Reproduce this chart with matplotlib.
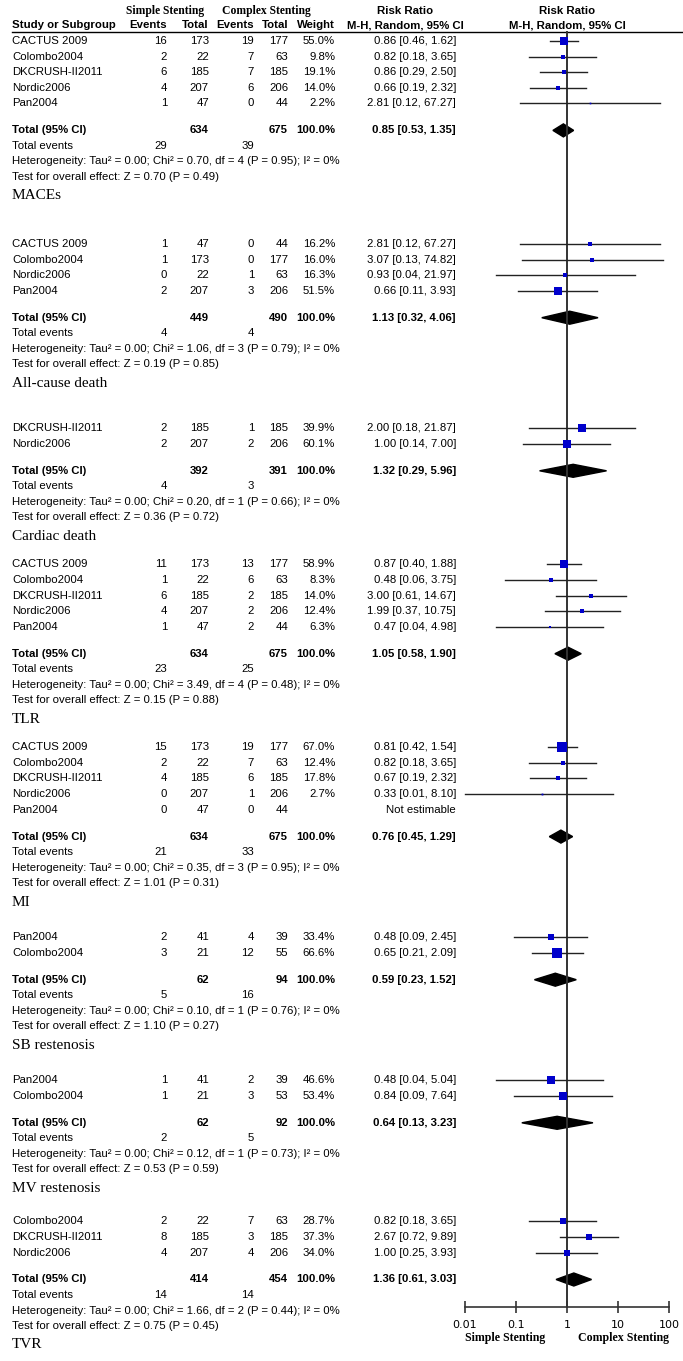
import numpy as np
import matplotlib.pyplot as plt

# outcome captions, one per block (printed under each block)
outcomes = ["MACEs", "All-cause death", "Cardiac death", "TLR", "MI",
            "SB restenosis", "MV restenosis", "TVR"]

studies = [
    ["CACTUS 2009", "Colombo2004", "DKCRUSH-II2011", "Nordic2006", "Pan2004"],
    ["CACTUS 2009", "Colombo2004", "Nordic2006", "Pan2004"],
    ["DKCRUSH-II2011", "Nordic2006"],
    ["CACTUS 2009", "Colombo2004", "DKCRUSH-II2011", "Nordic2006", "Pan2004"],
    ["CACTUS 2009", "Colombo2004", "DKCRUSH-II2011", "Nordic2006", "Pan2004"],
    ["Pan2004", "Colombo2004"],
    ["Pan2004", "Colombo2004"],
    ["Colombo2004", "DKCRUSH-II2011", "Nordic2006"],
]
ev_simple = [[16, 2, 6, 4, 1], [1, 1, 0, 2], [2, 2], [11, 1, 6, 4, 1],
             [15, 2, 4, 0, 0], [2, 3], [1, 1], [2, 8, 4]]
n_simple = [[173, 22, 185, 207, 47], [47, 173, 22, 207], [185, 207],
            [173, 22, 185, 207, 47], [173, 22, 185, 207, 47], [41, 21],
            [41, 21], [22, 185, 207]]
ev_complex = [[19, 7, 7, 6, 0], [0, 0, 1, 3], [1, 2], [13, 6, 2, 2, 2],
              [19, 7, 6, 1, 0], [4, 12], [2, 3], [7, 3, 4]]
n_complex = [[177, 63, 185, 206, 44], [44, 177, 63, 206], [185, 206],
             [177, 63, 185, 206, 44], [177, 63, 185, 206, 44], [39, 55],
             [39, 53], [63, 185, 206]]
weights = [[55.0, 9.8, 19.1, 14.0, 2.2], [16.2, 16.0, 16.3, 51.5], [39.9, 60.1],
           [58.9, 8.3, 14.0, 12.4, 6.3], [67.0, 12.4, 17.8, 2.7, None],
           [33.4, 66.6], [46.6, 53.4], [28.7, 37.3, 34.0]]
rr = [[0.86, 0.82, 0.86, 0.66, 2.81], [2.81, 3.07, 0.93, 0.66], [2.00, 1.00],
      [0.87, 0.48, 3.00, 1.99, 0.47], [0.81, 0.82, 0.67, 0.33, None],
      [0.48, 0.65], [0.48, 0.84], [0.82, 2.67, 1.00]]
rr_lo = [[0.46, 0.18, 0.29, 0.19, 0.12], [0.12, 0.13, 0.04, 0.11], [0.18, 0.14],
         [0.40, 0.06, 0.61, 0.37, 0.04], [0.42, 0.18, 0.19, 0.01, None],
         [0.09, 0.21], [0.04, 0.09], [0.18, 0.72, 0.25]]
rr_hi = [[1.62, 3.65, 2.50, 2.32, 67.27], [67.27, 74.82, 21.97, 3.93], [21.87, 7.00],
         [1.88, 3.75, 14.67, 10.75, 4.98], [1.54, 3.65, 2.32, 8.10, None],
         [2.45, 2.09], [5.04, 7.64], [3.65, 9.89, 3.93]]

tot_simple = [634, 449, 392, 634, 634, 62, 62, 414]
tot_complex = [675, 490, 391, 675, 675, 94, 92, 454]
tot_rr = [0.85, 1.13, 1.32, 1.05, 0.76, 0.59, 0.64, 1.36]
tot_lo = [0.53, 0.32, 0.29, 0.58, 0.45, 0.23, 0.13, 0.61]
tot_hi = [1.35, 4.06, 5.96, 1.90, 1.29, 1.52, 3.23, 3.03]
tot_ev_simple = [29, 4, 4, 23, 21, 5, 2, 14]
tot_ev_complex = [39, 4, 3, 25, 33, 16, 5, 14]
chi2 = [0.70, 1.06, 0.20, 3.49, 0.35, 0.10, 0.12, 1.66]
dfree = [4, 3, 1, 4, 3, 1, 1, 2]
p_het = [0.95, 0.79, 0.66, 0.48, 0.95, 0.76, 0.73, 0.44]
z_val = [0.70, 0.19, 0.36, 0.15, 1.01, 1.10, 0.53, 0.75]
p_z = [0.49, 0.85, 0.72, 0.88, 0.31, 0.27, 0.59, 0.45]

axis_ticks = [0.01, 0.1, 1, 10, 100]
axis_labels = ["0.01", "0.1", "1", "10", "100"]

W, H = 683, 1361
fig = plt.figure(figsize=(W / 100, H / 100), dpi=100)
fig.patch.set_facecolor("white")

# table part, pixel coordinates
ax = fig.add_axes([0, 0, 1, 1])
ax.set_xlim(0, W)
ax.set_ylim(H, 0)
ax.axis("off")

# forest part, log scale between 0.01 and 100
x0, x1, y_axis = 465, 669, 1307
ax2 = fig.add_axes([x0 / W, (H - y_axis) / H, (x1 - x0) / W, y_axis / H])
ax2.set_xscale("log")
ax2.set_xlim(0.01, 100)
ax2.set_ylim(y_axis, 0)
ax2.patch.set_alpha(0)
for s in ["top", "right", "left"]:
    ax2.spines[s].set_visible(False)
ax2.spines["bottom"].set_linewidth(1.2)
ax2.spines["bottom"].set_color("#333333")
ax2.set_yticks([])
ax2.set_xticks(axis_ticks)
ax2.set_xticklabels(axis_labels)
ax2.minorticks_off()
ax2.tick_params(axis="x", direction="inout", length=8, width=1.2,
                color="#333333", labelsize=8, pad=5)

sans = "Liberation Sans"
serif = "Liberation Serif"
fs = 8.2
col_name, col_es, col_ns, col_ec, col_nc, col_w, col_ci = 12, 167, 209, 254, 288, 335, 456

# header
ax.text(165, 11, "Simple Stenting", ha="center", va="center", fontsize=8.4,
        family=serif, weight="bold")
ax.text(266, 11, "Complex Stenting", ha="center", va="center", fontsize=8.4,
        family=serif, weight="bold")
ax.text(405, 11, "Risk Ratio", ha="center", va="center", fontsize=fs,
        family=sans, weight="bold")
ax.text(567, 11, "Risk Ratio", ha="center", va="center", fontsize=fs,
        family=sans, weight="bold")
hy = 25
ax.text(col_name, hy, "Study or Subgroup", ha="left", va="center", fontsize=fs,
        family=sans, weight="bold")
for xx, t in [(col_es, "Events"), (col_ns, "Total"), (col_ec, "Events"),
              (col_nc, "Total"), (col_w, "Weight")]:
    ax.text(xx, hy, t, ha="right", va="center", fontsize=fs, family=sans,
            weight="bold")
ax.text(405, hy, "M-H, Random, 95% CI", ha="center", va="center", fontsize=fs,
        family=sans, weight="bold")
ax.text(567, hy, "M-H, Random, 95% CI", ha="center", va="center", fontsize=fs,
        family=sans, weight="bold")
ax.plot([12, W], [31.5, 31.5], color="black", lw=1)

# vertical line of no effect
ax2.plot([1, 1], [31.5, y_axis], color="#333333", lw=1.4, clip_on=False)

row_h = 15.6
line_h = 15.5
first_gap = [0, 48, 45, 28, 28, 35, 35, 33]
y = 41
for b in range(len(outcomes)):
    y += first_gap[b]
    for i, name in enumerate(studies[b]):
        ax.text(col_name, y, name, ha="left", va="center", fontsize=fs, family=sans)
        ax.text(col_es, y, str(ev_simple[b][i]), ha="right", va="center", fontsize=fs, family=sans)
        ax.text(col_ns, y, str(n_simple[b][i]), ha="right", va="center", fontsize=fs, family=sans)
        ax.text(col_ec, y, str(ev_complex[b][i]), ha="right", va="center", fontsize=fs, family=sans)
        ax.text(col_nc, y, str(n_complex[b][i]), ha="right", va="center", fontsize=fs, family=sans)
        if weights[b][i] is None:
            ax.text(col_ci, y, "Not estimable", ha="right", va="center", fontsize=fs, family=sans)
        else:
            ax.text(col_w, y, f"{weights[b][i]:.1f}%", ha="right", va="center", fontsize=fs, family=sans)
            ax.text(col_ci, y, f"{rr[b][i]:.2f} [{rr_lo[b][i]:.2f}, {rr_hi[b][i]:.2f}]",
                    ha="right", va="center", fontsize=fs, family=sans)
            ax2.plot([rr_lo[b][i], rr_hi[b][i]], [y, y], color="#222222", lw=1, clip_on=False)
            ms = 0.8 * np.sqrt(weights[b][i])
            ax2.plot(rr[b][i], y, "s", color="#0000cc", ms=ms, mew=0, clip_on=False)
        y += row_h
    y += 27 - row_h
    # pooled estimate
    ax.text(col_name, y, "Total (95% CI)", ha="left", va="center", fontsize=fs, family=sans, weight="bold")
    ax.text(col_ns, y, str(tot_simple[b]), ha="right", va="center", fontsize=fs, family=sans, weight="bold")
    ax.text(col_nc, y, str(tot_complex[b]), ha="right", va="center", fontsize=fs, family=sans, weight="bold")
    ax.text(col_w, y, "100.0%", ha="right", va="center", fontsize=fs, family=sans, weight="bold")
    ax.text(col_ci, y, f"{tot_rr[b]:.2f} [{tot_lo[b]:.2f}, {tot_hi[b]:.2f}]",
            ha="right", va="center", fontsize=fs, family=sans, weight="bold")
    dh = 6.5
    ax2.fill([tot_lo[b], tot_rr[b], tot_hi[b], tot_rr[b]], [y, y - dh, y, y + dh],
             color="black", clip_on=False)
    y += line_h
    ax.text(col_name, y, "Total events", ha="left", va="center", fontsize=fs, family=sans)
    ax.text(col_es, y, str(tot_ev_simple[b]), ha="right", va="center", fontsize=fs, family=sans)
    ax.text(col_ec, y, str(tot_ev_complex[b]), ha="right", va="center", fontsize=fs, family=sans)
    y += line_h
    ax.text(col_name, y, f"Heterogeneity: Tau\u00b2 = 0.00; Chi\u00b2 = {chi2[b]:.2f}, df = {dfree[b]} "
            f"(P = {p_het[b]:.2f}); I\u00b2 = 0%", ha="left", va="center", fontsize=fs, family=sans)
    y += line_h
    ax.text(col_name, y, f"Test for overall effect: Z = {z_val[b]:.2f} (P = {p_z[b]:.2f})",
            ha="left", va="center", fontsize=fs, family=sans)
    y += 19
    ax.text(col_name, y, outcomes[b], ha="left", va="center", fontsize=11, family=serif)

ax2.text(0.01, 1338, "Simple Stenting", ha="left", va="center", fontsize=8.6,
         family=serif, weight="bold", clip_on=False)
ax2.text(100, 1338, "Complex Stenting", ha="right", va="center", fontsize=8.6,
         family=serif, weight="bold", clip_on=False)

fig.savefig("out.png", dpi=100, facecolor="white")
